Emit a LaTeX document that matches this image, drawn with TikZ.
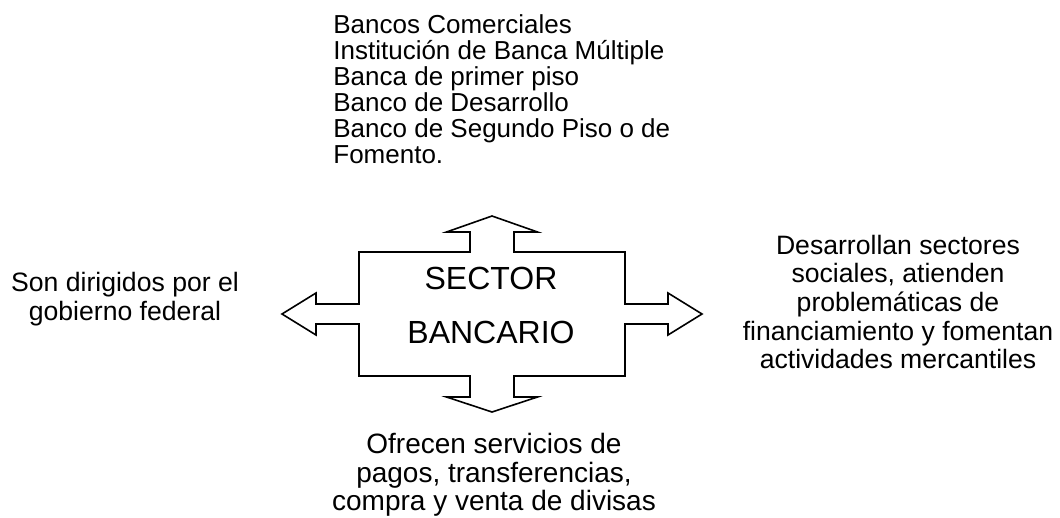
\documentclass[tikz,border=0pt]{standalone}
\usepackage{fontspec}
\setmainfont{Liberation Sans}
\usepackage{tikz}

\begin{document}
\begin{tikzpicture}[x=0.5pt,y=-0.5pt,
        note/.style={inner sep=0pt,align=center,font=\fontsize{13.3}{14.3}\selectfont},
        quad/.style={draw=black,line width=0.8pt,line join=miter}]
        \useasboundingbox (0,0) rectangle (1060,518);

        \draw[quad,shift={(492,314)}] (-210,0) -- (-176,-21) -- (-176,-10) -- (-133,-10) -- (-133,-62)
            -- (-22,-62) -- (-22,-82) -- (-45.5,-82) -- (0,-98) -- (45.5,-82) -- (22,-82) -- (22,-62)
            -- (133,-62) -- (133,-10) -- (176,-10) -- (176,-21) -- (210,0) -- (176,21) -- (176,10)
            -- (133,10) -- (133,62) -- (22,62) -- (22,83) -- (45.5,83) -- (0,98) -- (-45.5,83)
            -- (-22,83) -- (-22,62) -- (-133,62) -- (-133,10) -- (-176,10) -- (-176,21) -- cycle;

        \node(sector) at (491,305) [inner sep=0pt,align=center,font=\fontsize{16}{27}\selectfont] {SECTOR\\BANCARIO};

        \node(bancos) at (333,14) [anchor=north west,inner sep=0pt,align=left,font=\fontsize{13}{13}\selectfont]
            {Bancos Comerciales\\Instituci\'on de Banca M\'ultiple\\Banca de primer piso\\Banco de Desarrollo\\Banco de Segundo Piso o de\\Fomento.};

        \node(gobierno) at (125,299) [note] {Son dirigidos por el\\gobierno federal};
        \node(sectores) at (898,302) [note] {Desarrollan sectores\\sociales, atienden\\problem\'aticas de\\financiamiento y fomentan\\actividades mercantiles};
        \node(servicios) at (494,475) [note,font=\fontsize{14}{14.3}\selectfont] {Ofrecen servicios de\\pagos, transferencias,\\compra y venta de divisas};
    \end{tikzpicture}
\end{document}
